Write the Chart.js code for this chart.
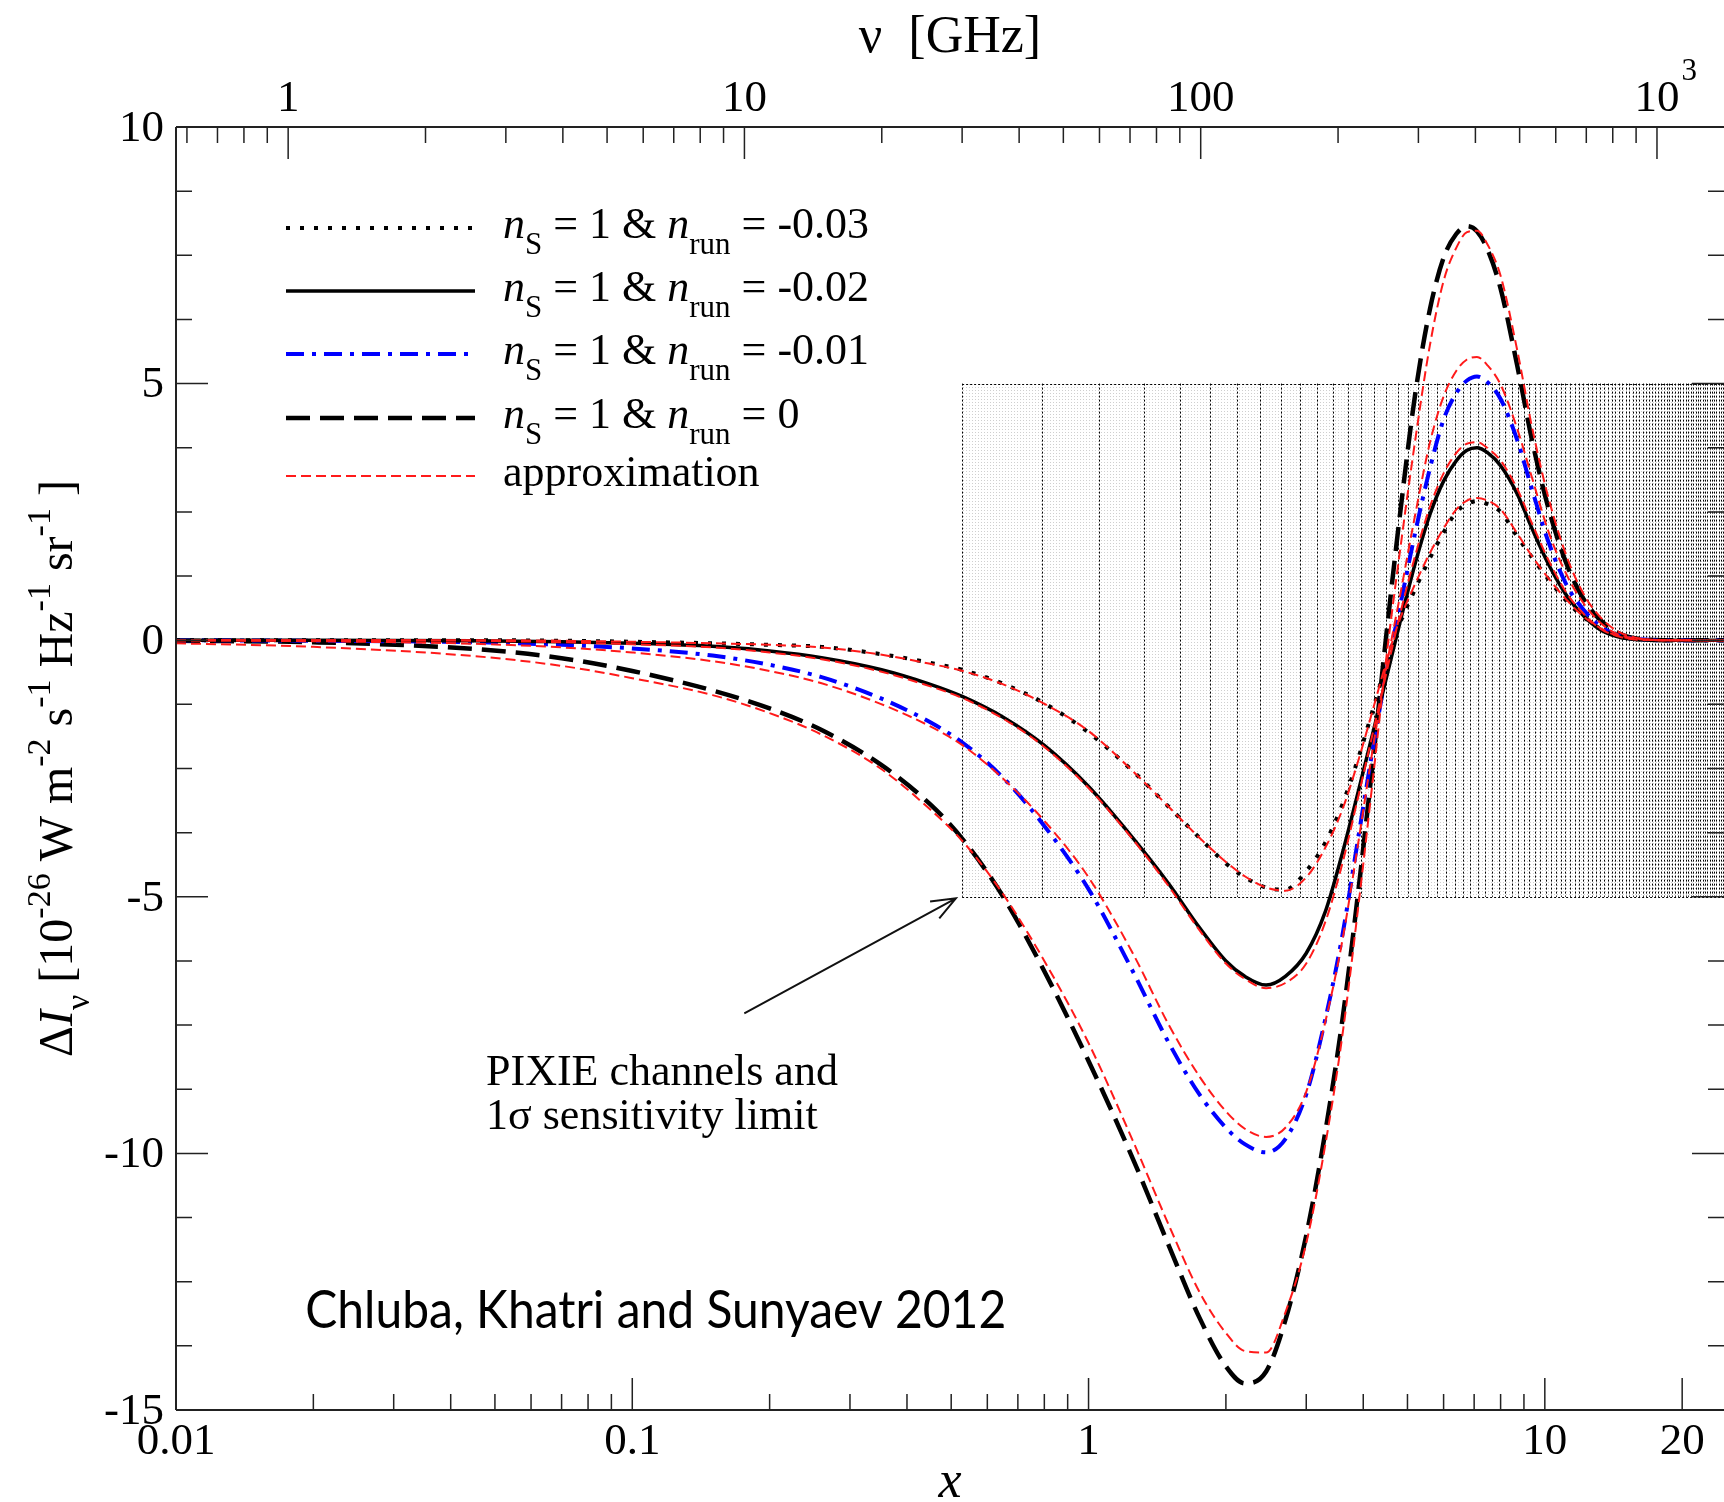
<!DOCTYPE html>
<html>
<head>
<meta charset="utf-8">
<title>Spectral distortion for running spectral index</title>
<script src="https://cdn.jsdelivr.net/npm/chart.js@4.4.1/dist/chart.umd.min.js"></script>
<style>
  html, body { margin: 0; padding: 0; background: #fff; }
  canvas { display: block; }
</style>
</head>
<body>
<canvas id="chart" width="1724" height="1502"></canvas>
<script>
// ─── DATA ───────────────────────────────────────────

// dimensionless frequency x = h nu / k T  (shared by every curve)
const xValues = [0.01, 0.02, 0.045, 0.07, 0.1, 0.15, 0.2, 0.26, 0.35, 0.45, 0.53, 0.65, 0.8, 1,
  1.25, 1.5, 1.75, 2, 2.2, 2.45, 2.7, 3, 3.3, 3.6, 3.9, 4.2, 4.5, 4.8, 5.2, 5.6, 6, 6.4, 6.75,
  7.1, 7.5, 8, 8.7, 9.4, 10.2, 11.2, 12.2, 13.2, 14.4, 16, 19, 25];

// Delta I_nu [1e-26 W m^-2 s^-1 Hz^-1 sr^-1], n_S = 1
const runM003 = [0, 0, 0, -0.01, -0.03, -0.06, -0.09, -0.13, -0.27, -0.44, -0.58, -0.85, -1.23, -1.8,
  -2.55, -3.25, -3.85, -4.35, -4.62, -4.82, -4.86, -4.5, -3.95, -3.2, -2.3, -1.35, -0.45, 0.3, 1.0,
  1.6, 2.1, 2.5, 2.65, 2.71, 2.65, 2.5, 2.02, 1.6, 1.18, 0.75, 0.44, 0.23, 0.08, 0.02, 0, 0];
const runM002 = [0, 0, -0.01, -0.03, -0.06, -0.12, -0.21, -0.34, -0.57, -0.86, -1.1, -1.5, -2.05, -2.85,
  -3.85, -4.75, -5.6, -6.25, -6.55, -6.72, -6.55, -6.1, -5.3, -4.15, -2.95, -1.8, -0.72, 0.3, 1.5,
  2.45, 3.1, 3.5, 3.7, 3.75, 3.65, 3.4, 2.85, 2.15, 1.47, 0.85, 0.46, 0.21, 0.07, 0.01, 0, 0];
const runM001 = [0, -0.01, -0.04, -0.09, -0.16, -0.3, -0.48, -0.72, -1.13, -1.6, -2.0, -2.68, -3.62, -4.85,
  -6.45, -7.85, -8.85, -9.5, -9.82, -9.98, -9.72, -8.85, -7.4, -5.75, -3.85, -2.1, -0.6, 0.6, 2.1,
  3.35, 4.3, 4.82, 5.06, 5.14, 5.02, 4.7, 3.9, 2.9, 1.9, 1.05, 0.58, 0.28, 0.1, 0.02, 0, 0];
const run0 = [-0.01, -0.04, -0.17, -0.35, -0.6, -0.98, -1.33, -1.75, -2.42, -3.2, -3.88, -5.0, -6.45, -8.2,
  -10.1, -11.8, -13.2, -14.15, -14.48, -14.25, -13.25, -11.6, -9.6, -7.4, -4.9, -2.35, 0.15, 2.35, 4.8,
  6.45, 7.45, 7.92, 8.07, 7.97, 7.6, 6.85, 5.35, 3.85, 2.55, 1.45, 0.78, 0.4, 0.15, 0.03, 0, 0];

// approximations (red)
const approxM003 = [0, 0, 0, -0.01, -0.03, -0.06, -0.09, -0.14, -0.28, -0.46, -0.6, -0.86, -1.24, -1.77,
  -2.55, -3.25, -3.85, -4.32, -4.6, -4.82, -4.88, -4.62, -4.05, -3.3, -2.35, -1.35, -0.4, 0.38, 1.1,
  1.7, 2.18, 2.55, 2.72, 2.77, 2.72, 2.55, 2.08, 1.62, 1.2, 0.77, 0.45, 0.24, 0.09, 0.02, 0, 0];
const approxM002 = [0, 0, -0.01, -0.04, -0.08, -0.14, -0.24, -0.37, -0.61, -0.9, -1.13, -1.53, -2.08, -2.88,
  -3.88, -4.8, -5.65, -6.3, -6.6, -6.78, -6.68, -6.3, -5.5, -4.35, -3.05, -1.8, -0.62, 0.45, 1.65,
  2.6, 3.25, 3.65, 3.83, 3.86, 3.74, 3.5, 2.95, 2.25, 1.55, 0.9, 0.5, 0.23, 0.08, 0.01, 0, 0];
const approxM001 = [0, -0.02, -0.07, -0.14, -0.24, -0.41, -0.6, -0.84, -1.24, -1.68, -2.05, -2.7, -3.52, -4.62,
  -6.1, -7.5, -8.5, -9.18, -9.52, -9.68, -9.5, -8.8, -7.45, -5.85, -3.95, -2.1, -0.5, 0.8, 2.45,
  3.85, 4.75, 5.25, 5.47, 5.52, 5.35, 4.98, 4.12, 3.13, 2.1, 1.25, 0.7, 0.35, 0.12, 0.03, 0, 0];
const approx0 = [-0.06, -0.13, -0.31, -0.5, -0.74, -1.07, -1.42, -1.84, -2.5, -3.3, -3.92, -4.95, -6.25, -7.85,
  -9.75, -11.4, -12.7, -13.5, -13.85, -13.88, -13.1, -11.75, -9.85, -7.7, -5.2, -2.7, -0.3, 1.65, 3.9,
  5.75, 7.0, 7.65, 7.95, 7.98, 7.7, 7.1, 5.65, 4.1, 2.75, 1.6, 0.88, 0.46, 0.18, 0.04, 0, 0];

// axes
const X_MIN = 0.01, X_MAX = 24.7;
const Y_MIN = -15, Y_MAX = 10;
const NU_PER_X = 56.78;              // GHz per unit x (T = 2.725 K)

const xMajorTicks  = [0.01, 0.1, 1, 10, 20];
const xMajorLabels = ['0.01', '0.1', '1', '10', '20'];
const xMinorTicks  = [0.02, 0.03, 0.04, 0.05, 0.06, 0.07, 0.08, 0.09,
  0.2, 0.3, 0.4, 0.5, 0.6, 0.7, 0.8, 0.9, 2, 3, 4, 5, 6, 7, 8, 9];
const nuMajorTicks  = [1, 10, 100, 1000];
const nuMajorLabels = ['1', '10', '100', '10'];
const nuMajorSup    = ['', '', '', '3'];
const nuMinorTicks  = [0.6, 0.7, 0.8, 0.9, 2, 3, 4, 5, 6, 7, 8, 9,
  20, 30, 40, 50, 60, 70, 80, 90, 200, 300, 400, 500, 600, 700, 800, 900];
const yMajorTicks  = [-15, -10, -5, 0, 5, 10];
const yMajorLabels = ['-15', '-10', '-5', '0', '5', '10'];
const yMinorTicks  = [-13.75, -12.5, -11.25, -8.75, -7.5, -6.25, -3.75, -2.5, -1.25,
  1.25, 2.5, 3.75, 6.25, 7.5, 8.75];

// PIXIE channels (15 GHz wide from 30 GHz) and 1 sigma limit
const PIXIE_NU_START = 30, PIXIE_NU_STEP = 15, PIXIE_LIMIT = 5;

// ─── STYLES ─────────────────────────────────────────

const SERIF = '"Liberation Serif", "Times New Roman", serif';
const STYLE = {
  dotted:  { color: '#000000', width: 4,   dash: [4, 10] },
  solid:   { color: '#000000', width: 3.5, dash: [] },
  dashdot: { color: '#0000ff', width: 4,   dash: [18, 8, 4, 8] },
  dashed:  { color: '#000000', width: 4.5, dash: [24, 10] },
  approx:  { color: '#ff1a1a', width: 2,   dash: [10, 5] }
};

const legendRows = [
  { style: STYLE.dotted,  run: '-0.03' },
  { style: STYLE.solid,   run: '-0.02' },
  { style: STYLE.dashdot, run: '-0.01' },
  { style: STYLE.dashed,  run: '0' },
  { style: STYLE.approx,  text: 'approximation' }
];

function series(values, style, order) {
  return {
    data: xValues.map((x, i) => ({ x, y: values[i] })),
    borderColor: style.color,
    borderWidth: style.width,
    borderDash: style.dash,
    borderCapStyle: 'butt',
    cubicInterpolationMode: 'monotone',
    pointRadius: 0,
    fill: false,
    order
  };
}

// ─── TEXT HELPERS ───────────────────────────────────

function fontOf(kind, size) {
  const small = kind === 'sub' || kind === 'sup';
  return (kind === 'i' ? 'italic ' : '') + Math.round(small ? size * 0.7 : size) + 'px ' + SERIF;
}
function shiftOf(kind, size) {
  return kind === 'sub' ? size * 0.36 : kind === 'sup' ? -size * 0.45 : 0;
}
function richWidth(ctx, parts, size) {
  let w = 0;
  for (const [t, k] of parts) { ctx.font = fontOf(k, size); w += ctx.measureText(t).width; }
  return w;
}
function drawRich(ctx, x, y, parts, size, align) {
  let cx = align === 'center' ? x - richWidth(ctx, parts, size) / 2 : x;
  ctx.textAlign = 'left';
  for (const [t, k] of parts) {
    ctx.font = fontOf(k, size);
    ctx.fillText(t, cx, y + shiftOf(k, size));
    cx += ctx.measureText(t).width;
  }
}

function stipple(ctx) {
  const c = document.createElement('canvas');
  c.width = 3; c.height = 3;
  const g = c.getContext('2d');
  g.fillStyle = '#ffffff'; g.fillRect(0, 0, 3, 3);
  g.fillStyle = '#cfcfcf'; g.fillRect(0, 0, 1, 1);
  return ctx.createPattern(c, 'repeat');
}

// ─── PLUGIN: frame, PIXIE band, axes, labels ────────

const frame = {
  id: 'frame',
  beforeDatasetsDraw(chart) {
    const { ctx, chartArea: a, scales: { y, nu } } = chart;
    const left = nu.getPixelForValue(PIXIE_NU_START);
    const top = y.getPixelForValue(PIXIE_LIMIT);
    const bottom = y.getPixelForValue(-PIXIE_LIMIT);

    ctx.save();
    ctx.fillStyle = stipple(ctx);
    ctx.fillRect(left, top, a.right - left, bottom - top);

    ctx.strokeStyle = '#000';
    ctx.lineWidth = 1;
    ctx.setLineDash([2, 2]);
    ctx.beginPath();
    for (let f = PIXIE_NU_START; f <= nu.max; f += PIXIE_NU_STEP) {
      const p = Math.round(nu.getPixelForValue(f)) + 0.5;
      ctx.moveTo(p, top);
      ctx.lineTo(p, bottom);
    }
    ctx.moveTo(left, Math.round(top) + 0.5);
    ctx.lineTo(a.right, Math.round(top) + 0.5);
    ctx.moveTo(left, Math.round(bottom) + 0.5);
    ctx.lineTo(a.right, Math.round(bottom) + 0.5);
    ctx.stroke();
    ctx.restore();
  },

  afterDatasetsDraw(chart) {
    const { ctx, chartArea: a, scales: { x, y, nu } } = chart;
    const MAJOR = 32, MINOR = 16;
    ctx.save();
    ctx.fillStyle = '#000';
    ctx.strokeStyle = '#222';

    // axis lines
    ctx.lineWidth = 2;
    ctx.beginPath();
    ctx.moveTo(a.left, a.top); ctx.lineTo(a.right, a.top);
    ctx.moveTo(a.left, a.bottom); ctx.lineTo(a.right, a.bottom);
    ctx.moveTo(a.left, a.top); ctx.lineTo(a.left, a.bottom);
    ctx.stroke();

    // ticks (inward)
    ctx.lineWidth = 1.5;
    ctx.beginPath();
    const vTick = (px, len) => {
      ctx.moveTo(px, a.bottom); ctx.lineTo(px, a.bottom - len);
    };
    xMajorTicks.forEach(v => vTick(x.getPixelForValue(v), MAJOR));
    xMinorTicks.forEach(v => vTick(x.getPixelForValue(v), MINOR));
    const tTick = (px, len) => {
      ctx.moveTo(px, a.top); ctx.lineTo(px, a.top + len);
    };
    nuMajorTicks.forEach(v => tTick(nu.getPixelForValue(v), MAJOR));
    nuMinorTicks.forEach(v => tTick(nu.getPixelForValue(v), MINOR));
    const hTick = (py, len) => {
      ctx.moveTo(a.left, py); ctx.lineTo(a.left + len, py);
      ctx.moveTo(a.right, py); ctx.lineTo(a.right - len, py);
    };
    yMajorTicks.forEach(v => hTick(y.getPixelForValue(v), MAJOR));
    yMinorTicks.forEach(v => hTick(y.getPixelForValue(v), MINOR));
    ctx.stroke();

    // tick labels
    ctx.font = '45px ' + SERIF;
    ctx.textBaseline = 'middle';
    ctx.textAlign = 'center';
    xMajorTicks.forEach((v, i) => ctx.fillText(xMajorLabels[i], x.getPixelForValue(v), a.bottom + 32));
    nuMajorTicks.forEach((v, i) => {
      const px = nu.getPixelForValue(v);
      ctx.font = '45px ' + SERIF;
      ctx.textAlign = 'center';
      ctx.fillText(nuMajorLabels[i], px, a.top - 28);
      if (nuMajorSup[i]) {
        const w = ctx.measureText(nuMajorLabels[i]).width;
        ctx.font = '31px ' + SERIF;
        ctx.textAlign = 'left';
        ctx.fillText(nuMajorSup[i], px + w / 2 + 2, a.top - 55);
      }
    });
    ctx.font = '45px ' + SERIF;
    ctx.textAlign = 'right';
    yMajorTicks.forEach((v, i) => ctx.fillText(yMajorLabels[i], a.left - 12, y.getPixelForValue(v) + 2));

    // axis titles
    ctx.textBaseline = 'alphabetic';
    ctx.textAlign = 'center';
    ctx.font = '52px ' + SERIF;
    ctx.fillText('\u03bd  [GHz]', (a.left + a.right) / 2, 52);
    ctx.font = 'italic 52px ' + SERIF;
    ctx.fillText('x', (a.left + a.right) / 2, 1497);

    ctx.save();
    ctx.translate(72, (a.top + a.bottom) / 2);
    ctx.rotate(-Math.PI / 2);
    drawRich(ctx, 0, 0, [
      ['\u0394', 'n'], ['I', 'i'], ['\u03bd', 'sub'], [' [10', 'n'], ['-26', 'sup'],
      [' W m', 'n'], ['-2', 'sup'], [' s', 'n'], ['-1', 'sup'], [' Hz', 'n'], ['-1', 'sup'],
      [' sr', 'n'], ['-1', 'sup'], [' ]', 'n']
    ], 48, 'center');
    ctx.restore();

    // legend
    const LX0 = 286, LX1 = 475, TX = 503, SIZE = 44;
    const rowsY = [228, 291, 354, 418, 476];
    legendRows.forEach((row, i) => {
      const ry = rowsY[i];
      ctx.save();
      ctx.strokeStyle = row.style.color;
      ctx.lineWidth = row.style.width;
      ctx.lineCap = 'butt';
      ctx.setLineDash(row.style.dash);
      ctx.beginPath();
      ctx.moveTo(LX0, ry); ctx.lineTo(LX1, ry);
      ctx.stroke();
      ctx.restore();
      const parts = row.text ? [[row.text, 'n']] : [
        ['n', 'i'], ['S', 'sub'], [' = 1 & ', 'n'], ['n', 'i'], ['run', 'sub'], [' = ' + row.run, 'n']
      ];
      drawRich(ctx, TX, ry + 10, parts, SIZE, 'left');
    });

    // PIXIE annotation with arrow
    const fx = x.getPixelForValue(0.176), fy = y.getPixelForValue(-7.27);
    const tx = x.getPixelForValue(0.512), ty = y.getPixelForValue(-5.03);
    const ang = Math.atan2(ty - fy, tx - fx);
    ctx.strokeStyle = '#111';
    ctx.lineWidth = 2;
    ctx.beginPath();
    ctx.moveTo(fx, fy); ctx.lineTo(tx, ty);
    ctx.moveTo(tx - 26 * Math.cos(ang - 0.38), ty - 26 * Math.sin(ang - 0.38));
    ctx.lineTo(tx, ty);
    ctx.lineTo(tx - 26 * Math.cos(ang + 0.38), ty - 26 * Math.sin(ang + 0.38));
    ctx.stroke();

    ctx.font = '44px ' + SERIF;
    ctx.textAlign = 'left';
    const nx = x.getPixelForValue(0.0478);
    ctx.fillText('PIXIE channels and', nx, y.getPixelForValue(-8.66));
    ctx.fillText('1\u03c3 sensitivity limit', nx, y.getPixelForValue(-9.52));

    // credit
    ctx.font = '52px Lato, "Open Sans", sans-serif';
    ctx.fillText('Chluba, Khatri and Sunyaev 2012', x.getPixelForValue(0.0192), y.getPixelForValue(-13.4), 701);

    ctx.restore();
  }
};

// ─── CHART ──────────────────────────────────────────

new Chart(document.getElementById('chart'), {
  type: 'line',
  data: {
    datasets: [
      series(approxM003, STYLE.approx, 0),
      series(approxM002, STYLE.approx, 0),
      series(approxM001, STYLE.approx, 0),
      series(approx0, STYLE.approx, 0),
      series(runM003, STYLE.dotted, 1),
      series(runM002, STYLE.solid, 1),
      series(runM001, STYLE.dashdot, 1),
      series(run0, STYLE.dashed, 1)
    ]
  },
  options: {
    responsive: false,
    animation: false,
    devicePixelRatio: 1,
    layout: { padding: { left: 176, top: 127, right: 0, bottom: 92 } },
    plugins: { legend: { display: false }, tooltip: { enabled: false }, title: { display: false } },
    scales: {
      x:  { type: 'logarithmic', min: X_MIN, max: X_MAX, bounds: 'data', display: false },
      nu: { type: 'logarithmic', position: 'top', min: X_MIN * NU_PER_X, max: X_MAX * NU_PER_X,
            bounds: 'data', display: false },
      y:  { type: 'linear', min: Y_MIN, max: Y_MAX, display: false }
    }
  },
  plugins: [frame]
});
</script>
</body>
</html>
